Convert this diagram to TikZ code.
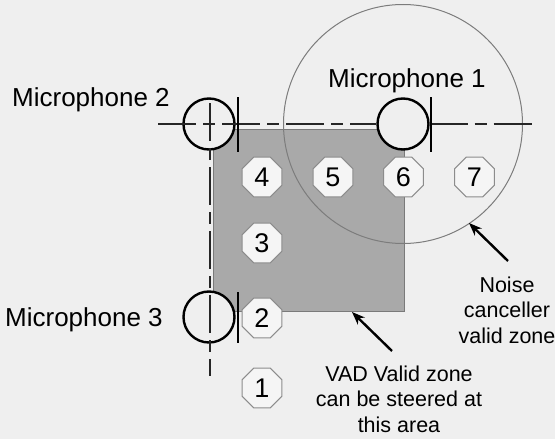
\documentclass[tikz,border=0pt]{standalone}
\usepackage{fontspec}
\setmainfont{Liberation Sans}
\usetikzlibrary{shapes.geometric,arrows.meta}
\definecolor{bgc}{HTML}{EFEFEF}
\definecolor{sqfill}{HTML}{A9A9A9}
\definecolor{sqline}{HTML}{7A7A7A}
\definecolor{zoneline}{HTML}{7C7C7C}
\definecolor{octline}{HTML}{8C8C8C}
\definecolor{octfill}{HTML}{F5F5F5}
\definecolor{axisc}{HTML}{262626}
\tikzset{
  mic/.style={circle, draw=black, line width=2.4pt, fill=bgc, minimum size=51pt, inner sep=0pt},
  micbar/.style={draw=black, line width=2.4pt},
  axisline/.style={draw=axisc, line width=2pt, dash pattern=on 38pt off 7pt on 12pt off 7pt},
  oct/.style={regular polygon, regular polygon sides=8, draw=octline, line width=1.1pt, fill=octfill, minimum size=43pt, inner sep=0pt, font=\fontsize{27}{27}\selectfont},
  miclabel/.style={font=\fontsize{26}{26}\selectfont, inner sep=0pt},
  note/.style={font=\fontsize{21.5}{25.5}\selectfont, align=center, inner sep=0pt},
  pointer/.style={draw=black, line width=2.4pt, -{Stealth[length=13pt,width=10pt]}}
}
\begin{document}
\begin{tikzpicture}[x=1pt,y=-1pt]
\useasboundingbox (0,0) rectangle (555,439);
\fill[bgc] (0,0) rectangle (555,439);
% VAD valid zone
\draw[fill=sqfill, draw=sqline, line width=1pt] (213,129) rectangle (404,311);
% noise canceller zone
\node[circle, draw=zoneline, line width=1pt, minimum size=239pt, inner sep=0pt] (nzone) at (403,124) {};
% microphones
\node[mic] (m1) at (403,124) {};
\node[mic] (m2) at (209,124) {};
\node[mic] (m3) at (209,317) {};
% axis lines
\coordinate (hstart) at (158,124);
\coordinate (hend) at (533,124);
\coordinate (vstart) at (210,103);
\coordinate (vend) at (210,376);
\draw[axisline] (hstart) -- (m1.west);
\draw[axisline] (m1.east) -- (hend);
\draw[axisline] (vstart) -- (vend);
% microphone bars
\draw[micbar] ([shift={(1,-27)}]m1.east) -- ([shift={(1,28)}]m1.east);
\draw[micbar] ([shift={(2,-27)}]m2.east) -- ([shift={(2,28)}]m2.east);
\draw[micbar] ([shift={(2,-25)}]m3.east) -- ([shift={(2,26)}]m3.east);
% positions
\node[oct] (p1) at (262,388) {1};
\node[oct] (p2) at (262,318) {2};
\node[oct] (p3) at (262,243) {3};
\node[oct] (p4) at (262,177) {4};
\node[oct] (p5) at (333,177) {5};
\node[oct] (p6) at (403.5,177) {6};
\node[oct] (p7) at (474.5,177) {7};
% labels
\node[miclabel, anchor=base west] (l1) at (328,87) {Microphone 1};
\node[miclabel, anchor=base west] (l2) at (12,106) {Microphone 2};
\node[miclabel, anchor=base west] (l3) at (5,326) {Microphone 3};
\node[note, anchor=base] (ncz) at (507,343) {Noise\\canceller\\valid zone};
\node[note, anchor=base] (vad) at (399,432) {VAD Valid zone\\can be steered at\\this area};
% pointers
\coordinate (nctail) at (508,261);
\coordinate (nctip) at (469,223);
\coordinate (vadtail) at (392,351);
\coordinate (vadtip) at (352,312);
\draw[pointer] (nctail) -- (nctip);
\draw[pointer] (vadtail) -- (vadtip);
\end{tikzpicture}
\end{document}
